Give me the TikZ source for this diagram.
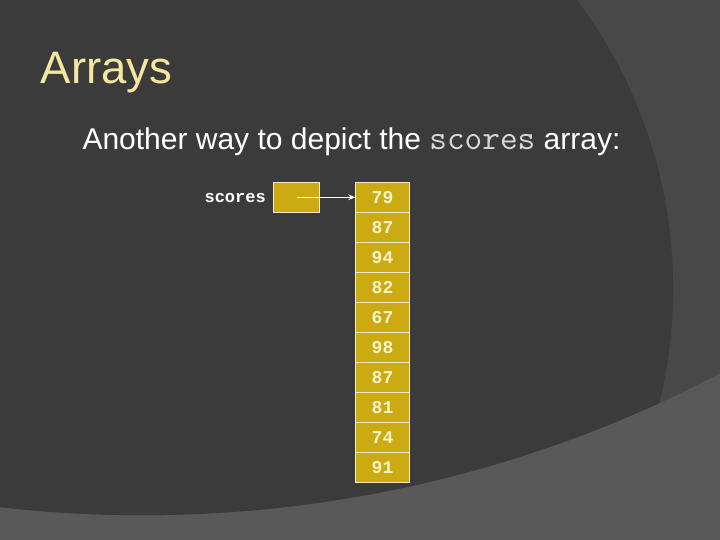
\documentclass[tikz,border=0pt]{standalone}
\usepackage{fontspec}
\setmainfont{Liberation Sans}
\newfontfamily\monof{Liberation Mono}
\usetikzlibrary{arrows.meta}
\definecolor{bgdark}{RGB}{59,59,59}
\definecolor{bgright}{RGB}{72,72,72}
\definecolor{bgbottom}{RGB}{89,89,89}
\definecolor{titlecol}{RGB}{245,230,160}
\definecolor{cellfill}{RGB}{204,170,18}
\definecolor{cellline}{RGB}{242,237,200}
\definecolor{numcol}{RGB}{248,244,205}
\definecolor{codegray}{RGB}{215,215,215}
\begin{document}
\begin{tikzpicture}[x=1pt,y=-1pt,
  cell/.style={draw=cellline, line width=0.8pt, fill=cellfill, minimum width=53.6pt, minimum height=30pt, inner sep=0pt, text=numcol, font=\monof\bfseries\fontsize{18}{18}\selectfont},
  ptrbox/.style={draw=cellline, line width=0.8pt, fill=cellfill, minimum width=46.4pt, minimum height=30pt, inner sep=0pt},
  ptr/.style={draw=white, line width=1.3pt, -{Stealth[length=7pt,width=5.5pt]}}]
\useasboundingbox (0,0) rectangle (720,540);
\fill[bgbottom] (0,0) rectangle (720,540);
\begin{scope}
  \clip (0,0) rectangle (720,540);
  \clip (142.3,-729.6) circle[radius=1244.8];
  \fill[bgright] (0,0) rectangle (720,540);
  \fill[bgdark] (192.5,288.4) circle[radius=480.6];
\end{scope}
\node[anchor=base west, inner sep=0pt, text=titlecol, font=\fontsize{45.5}{46}\selectfont] (title) at (40.5,83.3) {Arrays};
\node[anchor=base west, inner sep=0pt, text=white, font=\fontsize{30}{30}\selectfont] (sub) at (82.3,149.4) {Another way to depict the {\color{codegray}\fontsize{34.3}{34}\ttfamily scores} array:};
\foreach \v [count=\i from 0] in {79,87,94,82,67,98,87,81,74,91}
  \node[cell] (c\i) at (382.5,197.3+30*\i) {\v};
\node[ptrbox] (p) at (296.5,197.3) {};
\node[anchor=east, inner sep=0pt, text=white, font=\monof\bfseries\fontsize{17}{17}\selectfont] (lbl) at (266,198) {scores};
\draw[ptr] (p.center) -- (c0.west);
\end{tikzpicture}
\end{document}
